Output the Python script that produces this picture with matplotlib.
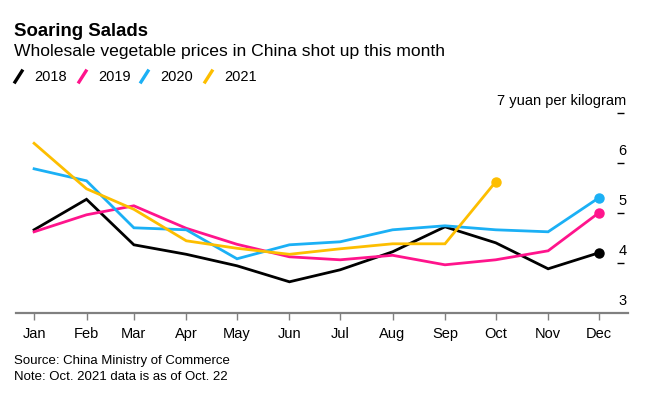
import matplotlib
matplotlib.use("Agg")
import matplotlib.pyplot as plt
import matplotlib.transforms as mtransforms
from matplotlib.lines import Line2D
import pandas as pd

plt.rcParams['font.family'] = ['Liberation Sans', 'DejaVu Sans']

months = ["Jan", "Feb", "Mar", "Apr", "May", "Jun",
          "Jul", "Aug", "Sep", "Oct", "Nov", "Dec"]
years = ["2018", "2019", "2020", "2021"]
prices_2018 = [4.67, 5.28, 4.37, 4.18, 3.95, 3.63, 3.87, 4.23, 4.73, 4.41, 3.89, 4.21]
prices_2019 = [4.63, 4.97, 5.15, 4.70, 4.38, 4.13, 4.07, 4.16, 3.97, 4.07, 4.25, 5.01]
prices_2020 = [5.89, 5.65, 4.71, 4.67, 4.09, 4.37, 4.43, 4.67, 4.75, 4.67, 4.63, 5.31]
prices_2021 = [6.40, 5.49, 5.08, 4.45, 4.30, 4.18, 4.29, 4.39, 4.39, 5.63]
ytick_values = [3, 4, 5, 6, 7]
colors = ["#000000", "#ff148c", "#1bb0f5", "#fdbe00"]

series = [prices_2018, prices_2019, prices_2020, prices_2021]
dates = pd.date_range("2021-01-01", periods=12, freq="MS")

fig = plt.figure(figsize=(6.52, 3.94), dpi=100)
W, H = 652, 394
ax = fig.add_axes([15.5 / W, 1 - 313.3 / H, 612.1 / W, 200 / H])

for vals, c in zip(series, colors):
    x = dates[:len(vals)]
    ax.plot(x, vals, color=c, lw=2.0, solid_joinstyle='miter', zorder=3)
    ax.plot(x[-1], vals[-1], 'o', color=c, ms=6.5, zorder=4)

ax.set_ylim(3, 7)
ax.set_xlim(pd.Timestamp("2020-12-21"), pd.Timestamp("2021-12-18"))

for s in ["top", "left"]:
    ax.spines[s].set_visible(False)
ax.spines["right"].set_visible(False)
ax.spines["bottom"].set_color("#808080")
ax.spines["bottom"].set_linewidth(1.6)

ax.set_xticks(dates)
ax.set_xticklabels(months, fontsize=10.5)
ax.tick_params(axis='x', direction='out', length=5, width=1, color='#808080', pad=5)

ax.yaxis.set_ticks_position('right')
ax.spines["right"].set_position(('axes', (624 - 15.5) / 612.1))
ax.set_yticks([4, 5, 6, 7])
ax.tick_params(axis='y', direction='in', length=5, width=1, color='black',
               labelright=False, labelleft=False)

trans = mtransforms.blended_transform_factory(ax.transAxes, ax.transData)
trans_off = mtransforms.offset_copy(trans, fig=fig, x=0, y=6, units='points')
lab_x = (626.5 - 15.5) / 612.1
for v in ytick_values:
    txt = f"{v} yuan per kilogram" if v == ytick_values[-1] else f"{v}"
    ax.text(lab_x, v, txt, transform=trans_off, ha='right', va='baseline',
            fontsize=10.5, clip_on=False)

# Title, subtitle
fig.text(14 / W, 1 - 36 / H, "Soaring Salads", fontsize=13.4, fontweight='bold',
         ha='left', va='baseline')
fig.text(14 / W, 1 - 56 / H, "Wholesale vegetable prices in China shot up this month",
         fontsize=12.6, ha='left', va='baseline')

# Legend
leg_slash_x = [15, 79, 141, 205]
for i, (yr, c) in enumerate(zip(years, colors)):
    x0 = leg_slash_x[i]
    fig.add_artist(Line2D([x0 / W, (x0 + 7) / W], [1 - 82 / H, 1 - 71 / H],
                          color=c, lw=2.4, transform=fig.transFigure))
    fig.text((x0 + 19) / W, 1 - 81 / H, yr, fontsize=10.5, ha='left', va='baseline')

# Footer
fig.text(14 / W, 1 - 364 / H, "Source: China Ministry of Commerce", fontsize=9.5,
         ha='left', va='baseline')
fig.text(14 / W, 1 - 380 / H, "Note: Oct. 2021 data is as of Oct. 22", fontsize=9.5,
         ha='left', va='baseline')

fig.savefig("out.png", dpi=100)
